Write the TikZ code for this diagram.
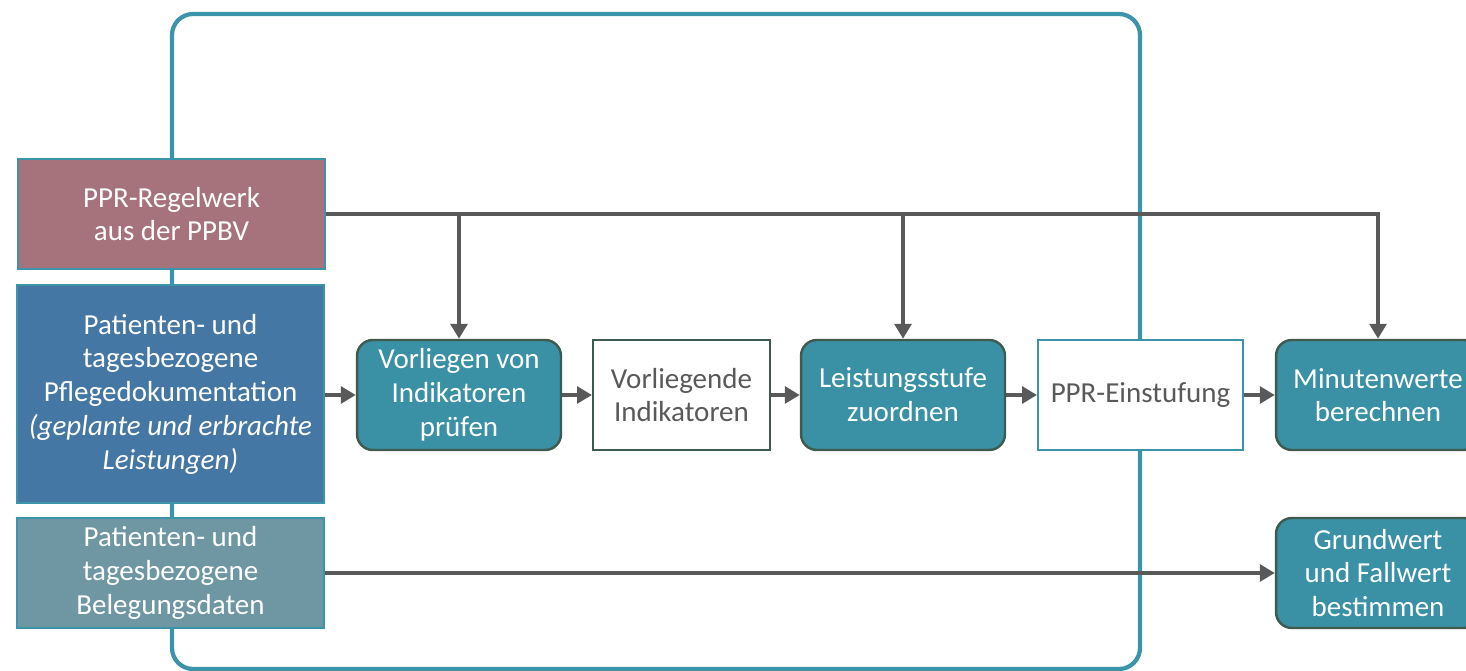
\documentclass[tikz,border=0pt]{standalone}
\usepackage{fontspec}
\setmainfont{Carlito}
\usetikzlibrary{calc}
\usetikzlibrary{arrows.meta}
\usepackage{xcolor}
\definecolor{rahmen}{HTML}{3B94A9}
\definecolor{regelfarbe}{HTML}{A6737D}
\definecolor{dokufarbe}{HTML}{4477A4}
\definecolor{belegfarbe}{HTML}{6E96A3}
\definecolor{schritt}{HTML}{3A90A5}
\definecolor{schrittrand}{HTML}{3F5B50}
\definecolor{pfeil}{HTML}{595959}

\begin{document}
\begin{tikzpicture}[x=0.02cm, y=-0.02cm,
 every node/.style={font=\fontsize{16.5}{19.2}\selectfont, align=center, inner sep=0},
 quelle/.style={draw=rahmen, line width=1.2pt, text=white, minimum width=6.14cm, minimum height=2.2cm},
 schrittbox/.style={draw=schrittrand, line width=1.4pt, rounded corners=9pt, fill=schritt, text=white, minimum width=4.08cm, minimum height=2.2cm},
 ergebnis/.style={draw=schrittrand, line width=1.2pt, fill=white, text=pfeil, minimum height=2.2cm},
 fluss/.style={draw=pfeil, line width=2.6pt, -{Triangle[length=8.5pt,width=9.5pt]}}]
\useasboundingbox (0,0) rectangle (1466,671);
\clip (0,0) rectangle (1466,671);
% Rahmen
\draw[rahmen, line width=2.4pt, rounded corners=12pt] (172,14) rectangle (1140,669);
% Eingaben
\node[quelle, fill=regelfarbe] (regel) at (171.5,214) {PPR-Regelwerk\\aus der PPBV};
\node[quelle, fill=dokufarbe, minimum height=4.36cm] (doku) at (170.5,394) {Patienten- und\\tagesbezogene\\Pflegedokumentation\\\textit{(geplante und erbrachte}\\\textit{Leistungen)}};
\node[quelle, fill=belegfarbe] (beleg) at (170.5,573) {Patienten- und\\tagesbezogene\\Belegungsdaten};
% Schritte
\node[schrittbox] (pruef) at (459,395) {Vorliegen von\\Indikatoren\\prüfen};
\node[ergebnis, minimum width=3.54cm] (indik) at (681.5,395) {Vorliegende\\Indikatoren};
\node[schrittbox] (stufe) at (903,395) {Leistungsstufe\\zuordnen};
\node[ergebnis, draw=rahmen, minimum width=4.1cm] (einst) at (1140.5,395) {PPR-Einstufung};
\node[schrittbox] (minut) at (1378,395) {Minutenwerte\\berechnen};
\node[schrittbox] (grund) at (1378,573) {Grundwert\\und Fallwert\\bestimmen};
% Pfeile
\draw[fluss] (regel.east) -| (minut.north);
\foreach \ziel in {pruef,stufe}
 \draw[fluss] (\ziel.north |- regel.east) -- (\ziel.north);
\draw[fluss] (doku.east |- pruef.west) -- (pruef.west);
\draw[fluss] (pruef) -- (indik);
\draw[fluss] (indik) -- (stufe);
\draw[fluss] (stufe) -- (einst);
\draw[fluss] (einst) -- (minut);
\draw[fluss] (beleg) -- (grund);
\end{tikzpicture}
\end{document}
